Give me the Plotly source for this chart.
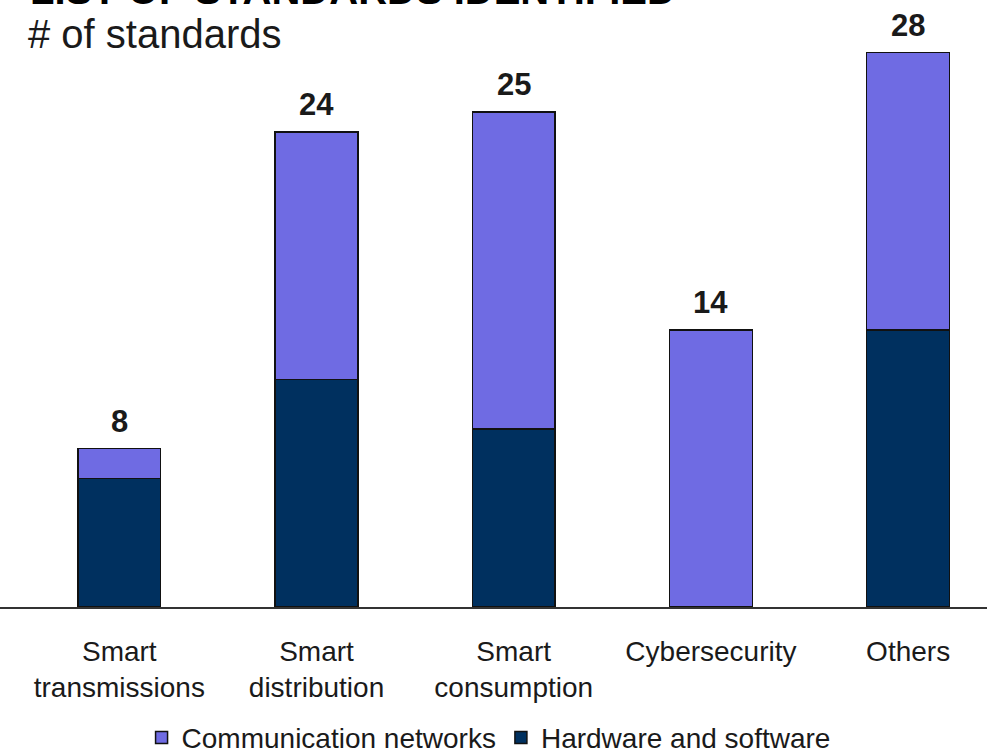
import plotly.graph_objects as go

# Standards per domain, split by type
categories = ["Smart<br>transmissions", "Smart<br>distribution", "Smart<br>consumption",
              "Cybersecurity", "Others"]
hardware_software = [6.5, 11.5, 9, 0, 14]
communication_networks = [1.5, 12.5, 16, 14, 14]
totals = [8, 24, 25, 14, 28]

COMM_COLOR = "#6F6BE3"
HW_COLOR = "#00305F"
FONT = "Liberation Sans, Arial, sans-serif"

fig = go.Figure()
fig.add_trace(go.Bar(
    x=categories, y=hardware_software, name="Hardware and software",
    marker=dict(color=HW_COLOR, line=dict(color="#111111", width=1.5)),
    width=0.42, legendrank=2,
))
fig.add_trace(go.Bar(
    x=categories, y=communication_networks, name="Communication networks",
    marker=dict(color=COMM_COLOR, line=dict(color="#111111", width=1.5)),
    width=0.42, legendrank=1,
))

# Total labels above each stack
for cat, tot in zip(categories, totals):
    fig.add_annotation(
        x=cat, y=tot, text=f"<b>{tot}</b>", showarrow=False,
        yanchor="bottom", yshift=8,
        font=dict(family=FONT, size=31, color="#1a1a1a"),
    )

# Heading (top line runs past the top edge of the page)
fig.add_annotation(
    xref="paper", yref="paper", x=0.0, xshift=28, y=1.0, yshift=-14,
    xanchor="left", yanchor="bottom",
    text="<b>LIST OF STANDARDS IDENTIFIED</b>", showarrow=False,
    font=dict(family=FONT, size=40, color="#000000"),
)
fig.add_annotation(
    xref="paper", yref="paper", x=0.0, xshift=26, y=1.0, yshift=-58,
    xanchor="left", yanchor="bottom",
    text="# of standards", showarrow=False,
    font=dict(family=FONT, size=40, color="#1a1a1a"),
)

fig.update_layout(
    barmode="stack",
    width=987, height=756,
    margin=dict(l=0, r=0, t=0, b=149, autoexpand=False),
    paper_bgcolor="white", plot_bgcolor="white",
    font=dict(family=FONT, color="#1a1a1a"),
    legend=dict(
        orientation="h", x=0.495, xanchor="center",
        yref="container", y=0.024, yanchor="middle",
        font=dict(family=FONT, size=28, color="#1a1a1a"),
        traceorder="normal",
    ),
    xaxis=dict(
        range=[-0.605, 4.40], showline=True, linecolor="#333333", linewidth=2,
        showgrid=False, ticks="", automargin=False,
        tickfont=dict(family=FONT, size=28, color="#1a1a1a"),
        ticklabelstandoff=18,
    ),
    yaxis=dict(range=[0, 30.66], visible=False, showgrid=False),
)

fig.write_html("out.html")
